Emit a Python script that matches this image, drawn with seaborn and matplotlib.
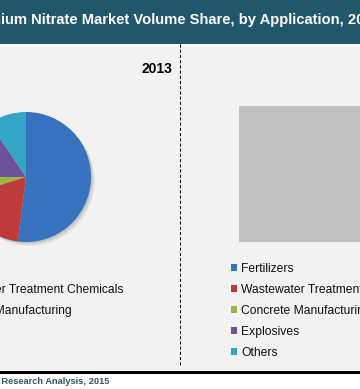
import matplotlib
matplotlib.use("Agg")
import matplotlib.pyplot as plt
import seaborn as sns
from matplotlib.patches import Rectangle, Circle

# 2013 volume share by application (%)
applications = ["Fertilizers", "Wastewater Treatment Chemicals",
                "Concrete Manufacturing", "Explosives", "Others"]
share_2013 = [52.0, 18.3, 4.7, 15.5, 9.5]
slice_colors = ["#3672bd", "#bf3a3a", "#97b940", "#70509b", "#33a6c8"]

title = "Ammonium Nitrate Market Volume Share, by Application, 2013 & 2020"
year_label = "2013"
source = "Source: Research Analysis, 2015"

sns.set_style("white")
plt.rcParams["font.family"] = ["Liberation Sans", "DejaVu Sans"]

W, H = 360, 389
fig = plt.figure(figsize=(W / 100, H / 100), dpi=100)
fig.patch.set_facecolor("white")

# canvas axes in pixel units for the frame pieces
bg = fig.add_axes([0, 0, 1, 1])
bg.set_xlim(0, W)
bg.set_ylim(H, 0)
bg.axis("off")

bg.add_patch(Rectangle((0, 0), W, 44, color="#20576a", lw=0))
bg.add_patch(Rectangle((0, 46), W, 324, color="#f2f2f2", lw=0))
bg.plot([0, W], [371.5, 371.5], color="black", lw=2.2)
bg.plot([179.5, 179.5], [44, 366], color="black", lw=0.75, dashes=(3, 2))

bg.text(-54, 20, title, color="white", fontsize=10.6, fontweight="bold",
        ha="left", va="center")
bg.text(172, 69, year_label, fontsize=10, fontweight="bold",
        ha="right", va="center", color="black")
bg.text(110, 381, source, fontsize=6.7, fontweight="bold",
        ha="right", va="center", color="#2f5668")

# placeholder block on the right panel
bg.add_patch(Rectangle((239, 106), 125, 136, color="#c0c0c0", lw=0))

# pie
cx, cy, r, pad = 26, 177, 65, 6
R = r + pad
pax = fig.add_axes([(cx - R) / W, (H - cy - R) / H, 2 * R / W, 2 * R / H])
for d, a in [(3, 0.05), (2, 0.07), (1, 0.09)]:
    pax.add_patch(Circle((0.02 * d, -0.02 * d), 1.0, color="black", alpha=a, lw=0))
wedges, _ = pax.pie(share_2013, colors=slice_colors, startangle=90,
                    counterclock=False, radius=1, wedgeprops=dict(lw=0))
pax.set_xlim(-R / r, R / r)
pax.set_ylim(-R / r, R / r)
pax.axis("off")

leg_kw = dict(loc="upper left", frameon=False, fontsize=8.7,
              handlelength=0.5, handleheight=0.5, handletextpad=0.35,
              labelspacing=0.74, borderpad=0, borderaxespad=0,
              bbox_transform=bg.transData, labelcolor="#111111")
leg1 = bg.legend(wedges, applications, bbox_to_anchor=(-68, 263), **leg_kw)
bg.add_artist(leg1)
bg.legend(wedges, applications, bbox_to_anchor=(231, 263), **leg_kw)

fig.savefig("out.png", dpi=100)
